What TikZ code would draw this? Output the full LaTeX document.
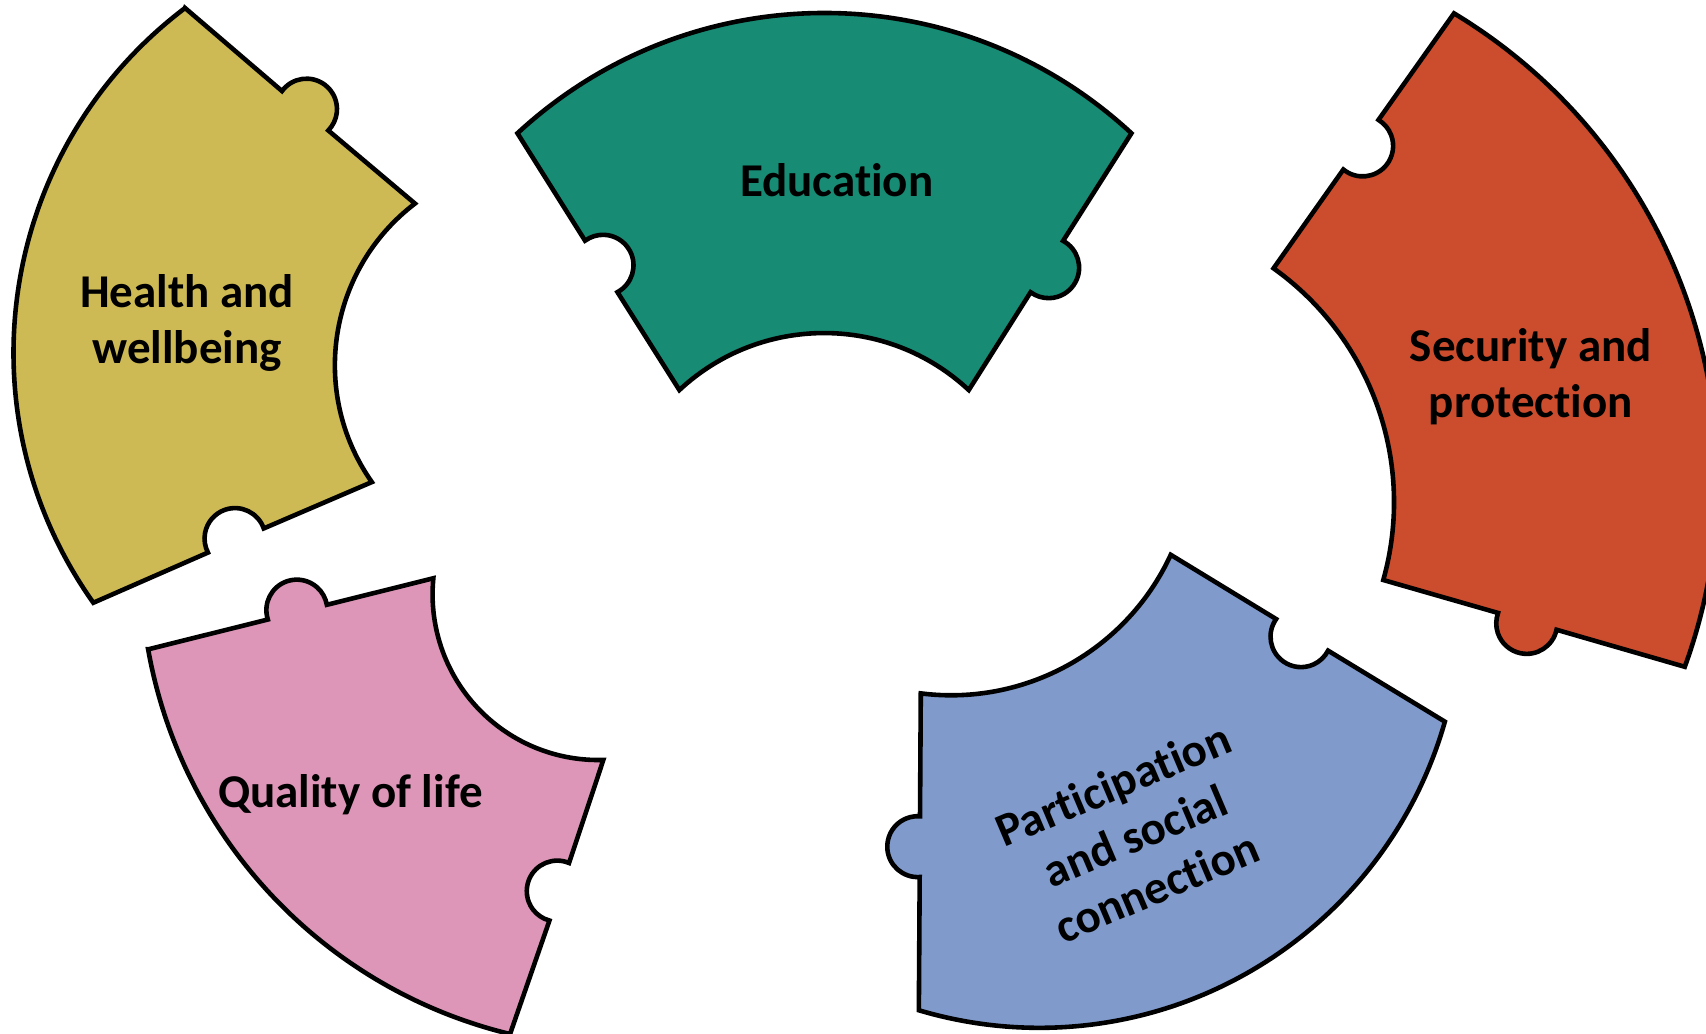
\documentclass[tikz,border=0pt]{standalone}
\usepackage{fontspec}
\setmainfont{Carlito}[Ligatures=NoCommon]
\usetikzlibrary{positioning}

\definecolor{healthyellow}{RGB}{205,186,84}
\definecolor{edugreen}{RGB}{23,139,116}
\definecolor{securityred}{RGB}{203,77,45}
\definecolor{socialblue}{RGB}{127,154,203}
\definecolor{lifepink}{RGB}{222,150,184}

\begin{document}
\begin{tikzpicture}[
    x=0.1mm, y=-0.1mm,
    piece/.style={draw=black, line width=1.2pt},
    piecetext/.style={font=\fontsize{12.3}{14.6}\selectfont\bfseries, align=center, text=black, inner sep=0pt}
]

% Canvas
\path[use as bounding box, fill=white] (0,0) rectangle (1568,950);

% Health and wellbeing (knob top, notch bottom)
\draw[piece, fill=healthyellow] (170,7.3) -- (259.2,83.7)
    arc[start angle=216.4, end angle=404.4, radius=28] -- (381.4,187.1)
    arc[start angle=232.7, end angle=144.9, radius=186.8] -- (242.4,485.7)
    arc[start angle=340.6, end angle=152.6, radius=28] -- (85.8,554)
    arc[start angle=144.6, end angle=232.9, radius=396.9] -- cycle;

% Education (knob right, notch left)
\draw[piece, fill=edugreen] (475.6,122.5)
    arc[start angle=227.2, end angle=312.8, radius=415.3] -- (977.1,221.4)
    arc[start angle=298.3, end angle=486.3, radius=28] -- (890.4,358.5)
    arc[start angle=313.0, end angle=227.0, radius=195] -- (567.5,268.5)
    arc[start angle=421.8, end angle=233.8, radius=28] -- cycle;

% Security and protection (knob bottom, notch left)
\draw[piece, fill=securityred] (1336.4,12.3)
    arc[start angle=301.1, end angle=380.0, radius=501.2] -- (1430.6,578.8)
    arc[start angle=372, end angle=560, radius=28] -- (1271.4,533.1)
    arc[start angle=15.7, end angle=-54.5, radius=264.1] -- (1234.7,155.8)
    arc[start angle=489.3, end angle=301.3, radius=28] -- cycle;

% Participation and social connection (notch top, knob left)
\draw[piece, fill=socialblue] (846.3,637.3)
    arc[start angle=97.2, end angle=24.8, radius=222.4] -- (1172.9,569.0)
    arc[start angle=215.3, end angle=27.3, radius=28] -- (1328,663.3)
    arc[start angle=15.9, end angle=106.6, radius=387.6] -- (845.3,806.1)
    arc[start angle=446.3, end angle=634.3, radius=28] -- cycle;

% Quality of life (knob top, notch right)
\draw[piece, fill=lifepink] (136.3,596.8) -- (246.2,569.4)
    arc[start angle=162, end angle=350, radius=28] -- (398.3,531.5)
    arc[start angle=185.6, end angle=88.2, radius=152.2] -- (523.0,793.2)
    arc[start angle=292.8, end angle=104.8, radius=28] -- (468.8,950.4)
    arc[start angle=103.6, end angle=169.9, radius=443.9] -- cycle;

% Labels
\node[piecetext] (health) at (172,297) {Health and\\wellbeing};
\node[piecetext] (education) at (769,166) {Education};
\node[piecetext] (security) at (1407,346) {Security and\\protection};
\node[piecetext] (quality) at (322,730) {Quality of life};
\node[piecetext, rotate=23] (participation) at (1043,768) {Participation\\and social\\connection};

\end{tikzpicture}
\end{document}
